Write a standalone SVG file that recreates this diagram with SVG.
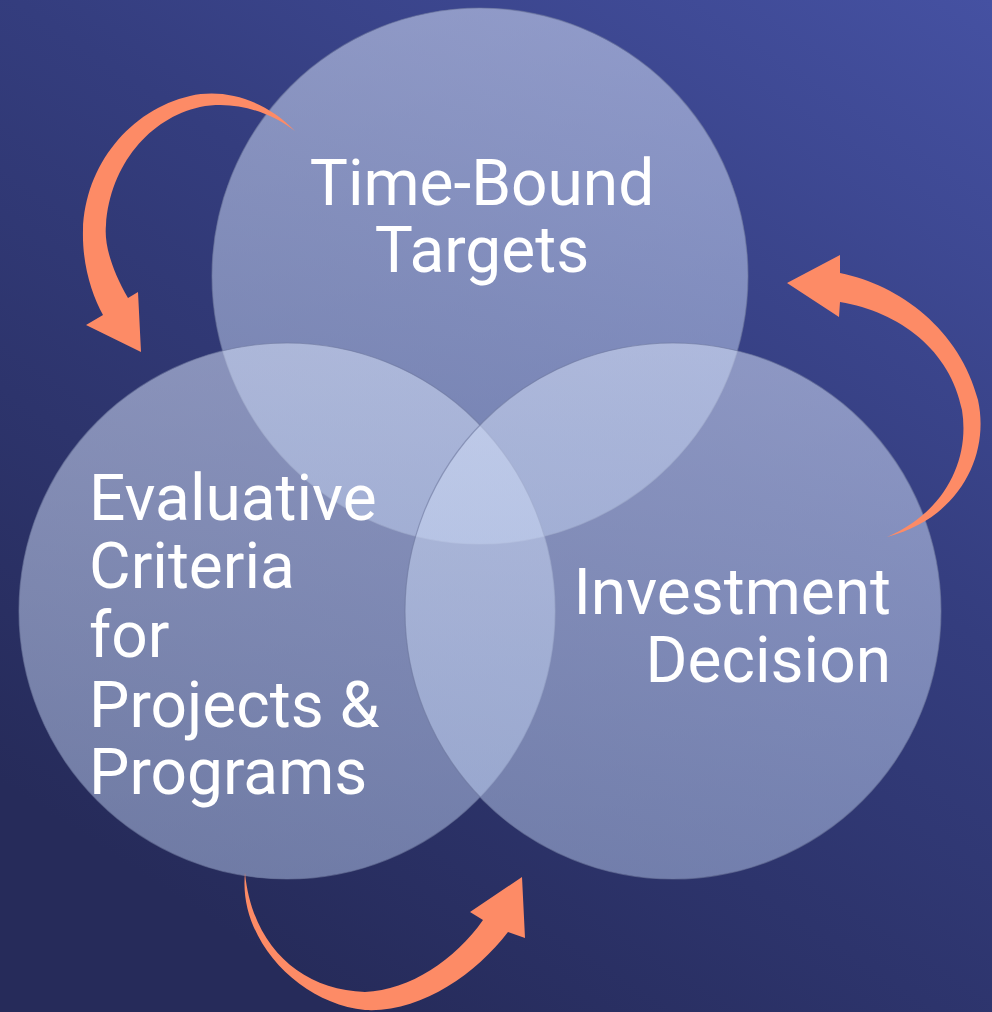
<svg xmlns="http://www.w3.org/2000/svg" width="992" height="1012" viewBox="0 0 992 1012">
  <defs>
    <linearGradient id="bg" x1="1" y1="0" x2="0.35" y2="1">
      <stop offset="0" stop-color="#4551a2"/>
      <stop offset="0.45" stop-color="#343d7e"/>
      <stop offset="1" stop-color="#262b5a"/>
    </linearGradient>
    <linearGradient id="disc" x1="0" y1="0" x2="0" y2="1">
      <stop offset="0" stop-color="#d4def6" stop-opacity="0.55"/>
      <stop offset="1" stop-color="#b8caee" stop-opacity="0.5"/>
    </linearGradient>
    <style>
      .disc { fill: url(#disc); stroke: #6e789e; stroke-opacity: 0.6; stroke-width: 1.2; }
      .label { font-family: Roboto, "Liberation Sans", sans-serif; font-size: 64px; fill: #ffffff; }
      .arrow { fill: #fd8b66; }
    </style>
  </defs>

  <rect width="992" height="1012" fill="url(#bg)"/>

  <g id="node-time-bound">
    <circle class="disc" cx="480" cy="276" r="268"/>
  </g>
  <g id="node-evaluative">
    <circle class="disc" cx="287" cy="611" r="268"/>
  </g>
  <g id="node-investment">
    <circle class="disc" cx="673" cy="611" r="268"/>
  </g>

  <g id="labels">
    <text class="label" x="482" y="205" text-anchor="middle">Time-Bound</text>
    <text class="label" x="482" y="272" text-anchor="middle">Targets</text>
    <text class="label" x="89" y="520">Evaluative</text>
    <text class="label" x="89" y="588">Criteria</text>
    <text class="label" x="89" y="657">for</text>
    <text class="label" x="89" y="727">Projects &amp;</text>
    <text class="label" x="89" y="794">Programs</text>
    <text class="label" x="891" y="614" text-anchor="end">Investment</text>
    <text class="label" x="891" y="682" text-anchor="end">Decision</text>
  </g>

  <g id="connectors">
    <!-- top-left: from the targets disc down to the criteria disc -->
    <path class="arrow" d="M295,131 C265,100 225,88 190,96 C130,110 85,165 83,230 C82,265 92,295 103,315 L86,325 L141,352 L138,292 L128,298 C112,270 104,245 106,225 C110,165 150,118 200,107 C235,100 270,112 295,131 Z"/>
    <!-- bottom: from the criteria disc over to the investment disc -->
    <path class="arrow" d="M245,873 C238,940 300,1004 365,1010 C420,1013 475,975 508,932 L525,938 L522,877 L470,912 L483,920 C455,960 410,990 365,992 C300,990 252,945 245,873 Z"/>
    <!-- right: from the investment disc back up to the targets disc -->
    <path class="arrow" d="M840,273 C900,285 960,330 978,400 C990,455 960,518 887,537 C945,512 970,460 962,410 C950,350 900,312 840,302 L839,317 L787,283 L840,255 Z"/>
  </g>
</svg>
